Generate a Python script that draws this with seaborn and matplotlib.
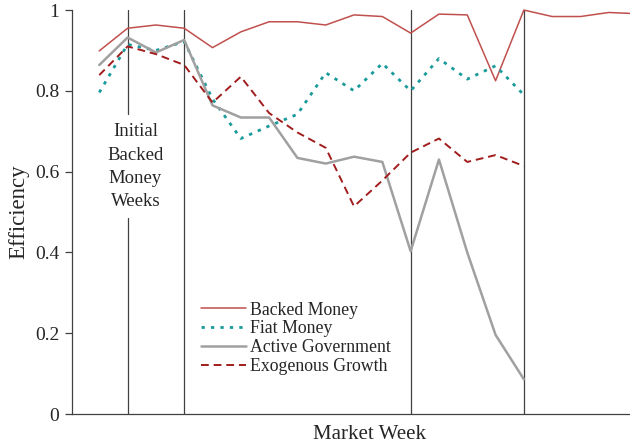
import matplotlib

matplotlib.use("Agg")
import matplotlib.pyplot as plt
import numpy as np
import pandas as pd
import seaborn as sns

# efficiency by market week
backed_money = [0.899, 0.955, 0.963, 0.955, 0.907, 0.946, 0.971, 0.971, 0.963, 0.988,
                0.984, 0.943, 0.990, 0.988, 0.825, 1.000, 0.984, 0.984, 0.994, 0.991]
fiat_money = [0.796, 0.915, 0.900, 0.922, 0.780, 0.682, 0.713, 0.742, 0.845, 0.800,
              0.868, 0.800, 0.880, 0.829, 0.862, 0.790]
active_government = [0.864, 0.932, 0.895, 0.926, 0.764, 0.734, 0.734, 0.634, 0.620, 0.637,
                     0.624, 0.403, 0.630, 0.400, 0.196, 0.086]
exogenous_growth = [0.839, 0.910, 0.891, 0.864, 0.771, 0.835, 0.745, 0.697, 0.659, 0.514,
                    0.578, 0.647, 0.682, 0.624, 0.641, 0.614]
series_names = ["Backed Money", "Fiat Money", "Active Government", "Exogenous Growth"]
marker_weeks = [1, 3, 11, 15]
initial_label = "Initial\nBacked\nMoney\nWeeks"

frames = []
for name, vals in zip(series_names, [backed_money, fiat_money, active_government, exogenous_growth]):
    frames.append(pd.DataFrame({"week": np.arange(len(vals)), "eff": vals, "series": name}))
df = pd.concat(frames, ignore_index=True)

sns.set_style("white")
plt.rcParams["font.family"] = ["Liberation Serif", "DejaVu Serif"]

fig = plt.figure(figsize=(6.3, 4.47), dpi=100)
ax = fig.add_axes([0.1138, 0.0738, 0.8862, 0.9037])

styles = {
    "Backed Money": dict(color="#c0504d", lw=1.1, ls="-"),
    "Fiat Money": dict(color="#1a9a9a", lw=2.0, ls=(0, (1.2, 2.2))),
    "Active Government": dict(color="#a0a0a0", lw=1.8, ls="-"),
    "Exogenous Growth": dict(color="#a11d1d", lw=1.4, ls=(0, (4, 2.5))),
}

# week dividers (the first one leaves a gap for the label)
for i, w in enumerate(marker_weeks):
    if i == 0:
        ax.plot([w, w], [0, 0.484], color="#404040", lw=0.9, zorder=1)
        ax.plot([w, w], [0.742, 1.0], color="#404040", lw=0.9, zorder=1)
    else:
        ax.axvline(w, color="#404040", lw=0.9, zorder=1)

for name in series_names:
    sub = df[df["series"] == name]
    st = styles[name]
    sns.lineplot(data=sub, x="week", y="eff", ax=ax, color=st["color"], lw=st["lw"],
                 linestyle=st["ls"], label=name, clip_on=False, zorder=3)

ax.text(1.28, 0.612, initial_label, ha="center", va="center", fontsize=13.5,
        linespacing=1.48, zorder=4)

ax.set_xlim(-0.975, 18.75)
ax.set_ylim(0, 1)
ax.set_yticks([0, 0.2, 0.4, 0.6, 0.8, 1.0])
ax.set_yticklabels(["0", "0.2", "0.4", "0.6", "0.8", "1"], fontsize=14)
ax.set_xticks([])
ax.tick_params(axis="y", direction="out", length=5, width=0.9, color="#404040", pad=4,
               left=True)
ax.set_xlabel("Market Week", fontsize=15)
ax.xaxis.set_label_coords(0.533, -0.027)
ax.set_ylabel("Efficiency", fontsize=16.5, labelpad=4)
for s in ["top", "right"]:
    ax.spines[s].set_visible(False)
for s in ["left", "bottom"]:
    ax.spines[s].set_color("#404040")
    ax.spines[s].set_linewidth(0.9)

leg = ax.legend(loc="upper left", bbox_to_anchor=(0.215, 0.30), frameon=False, fontsize=12.8,
                handlelength=2.55, handletextpad=0.25, labelspacing=0.1, borderpad=0)

fig.savefig("out.png", dpi=100)
